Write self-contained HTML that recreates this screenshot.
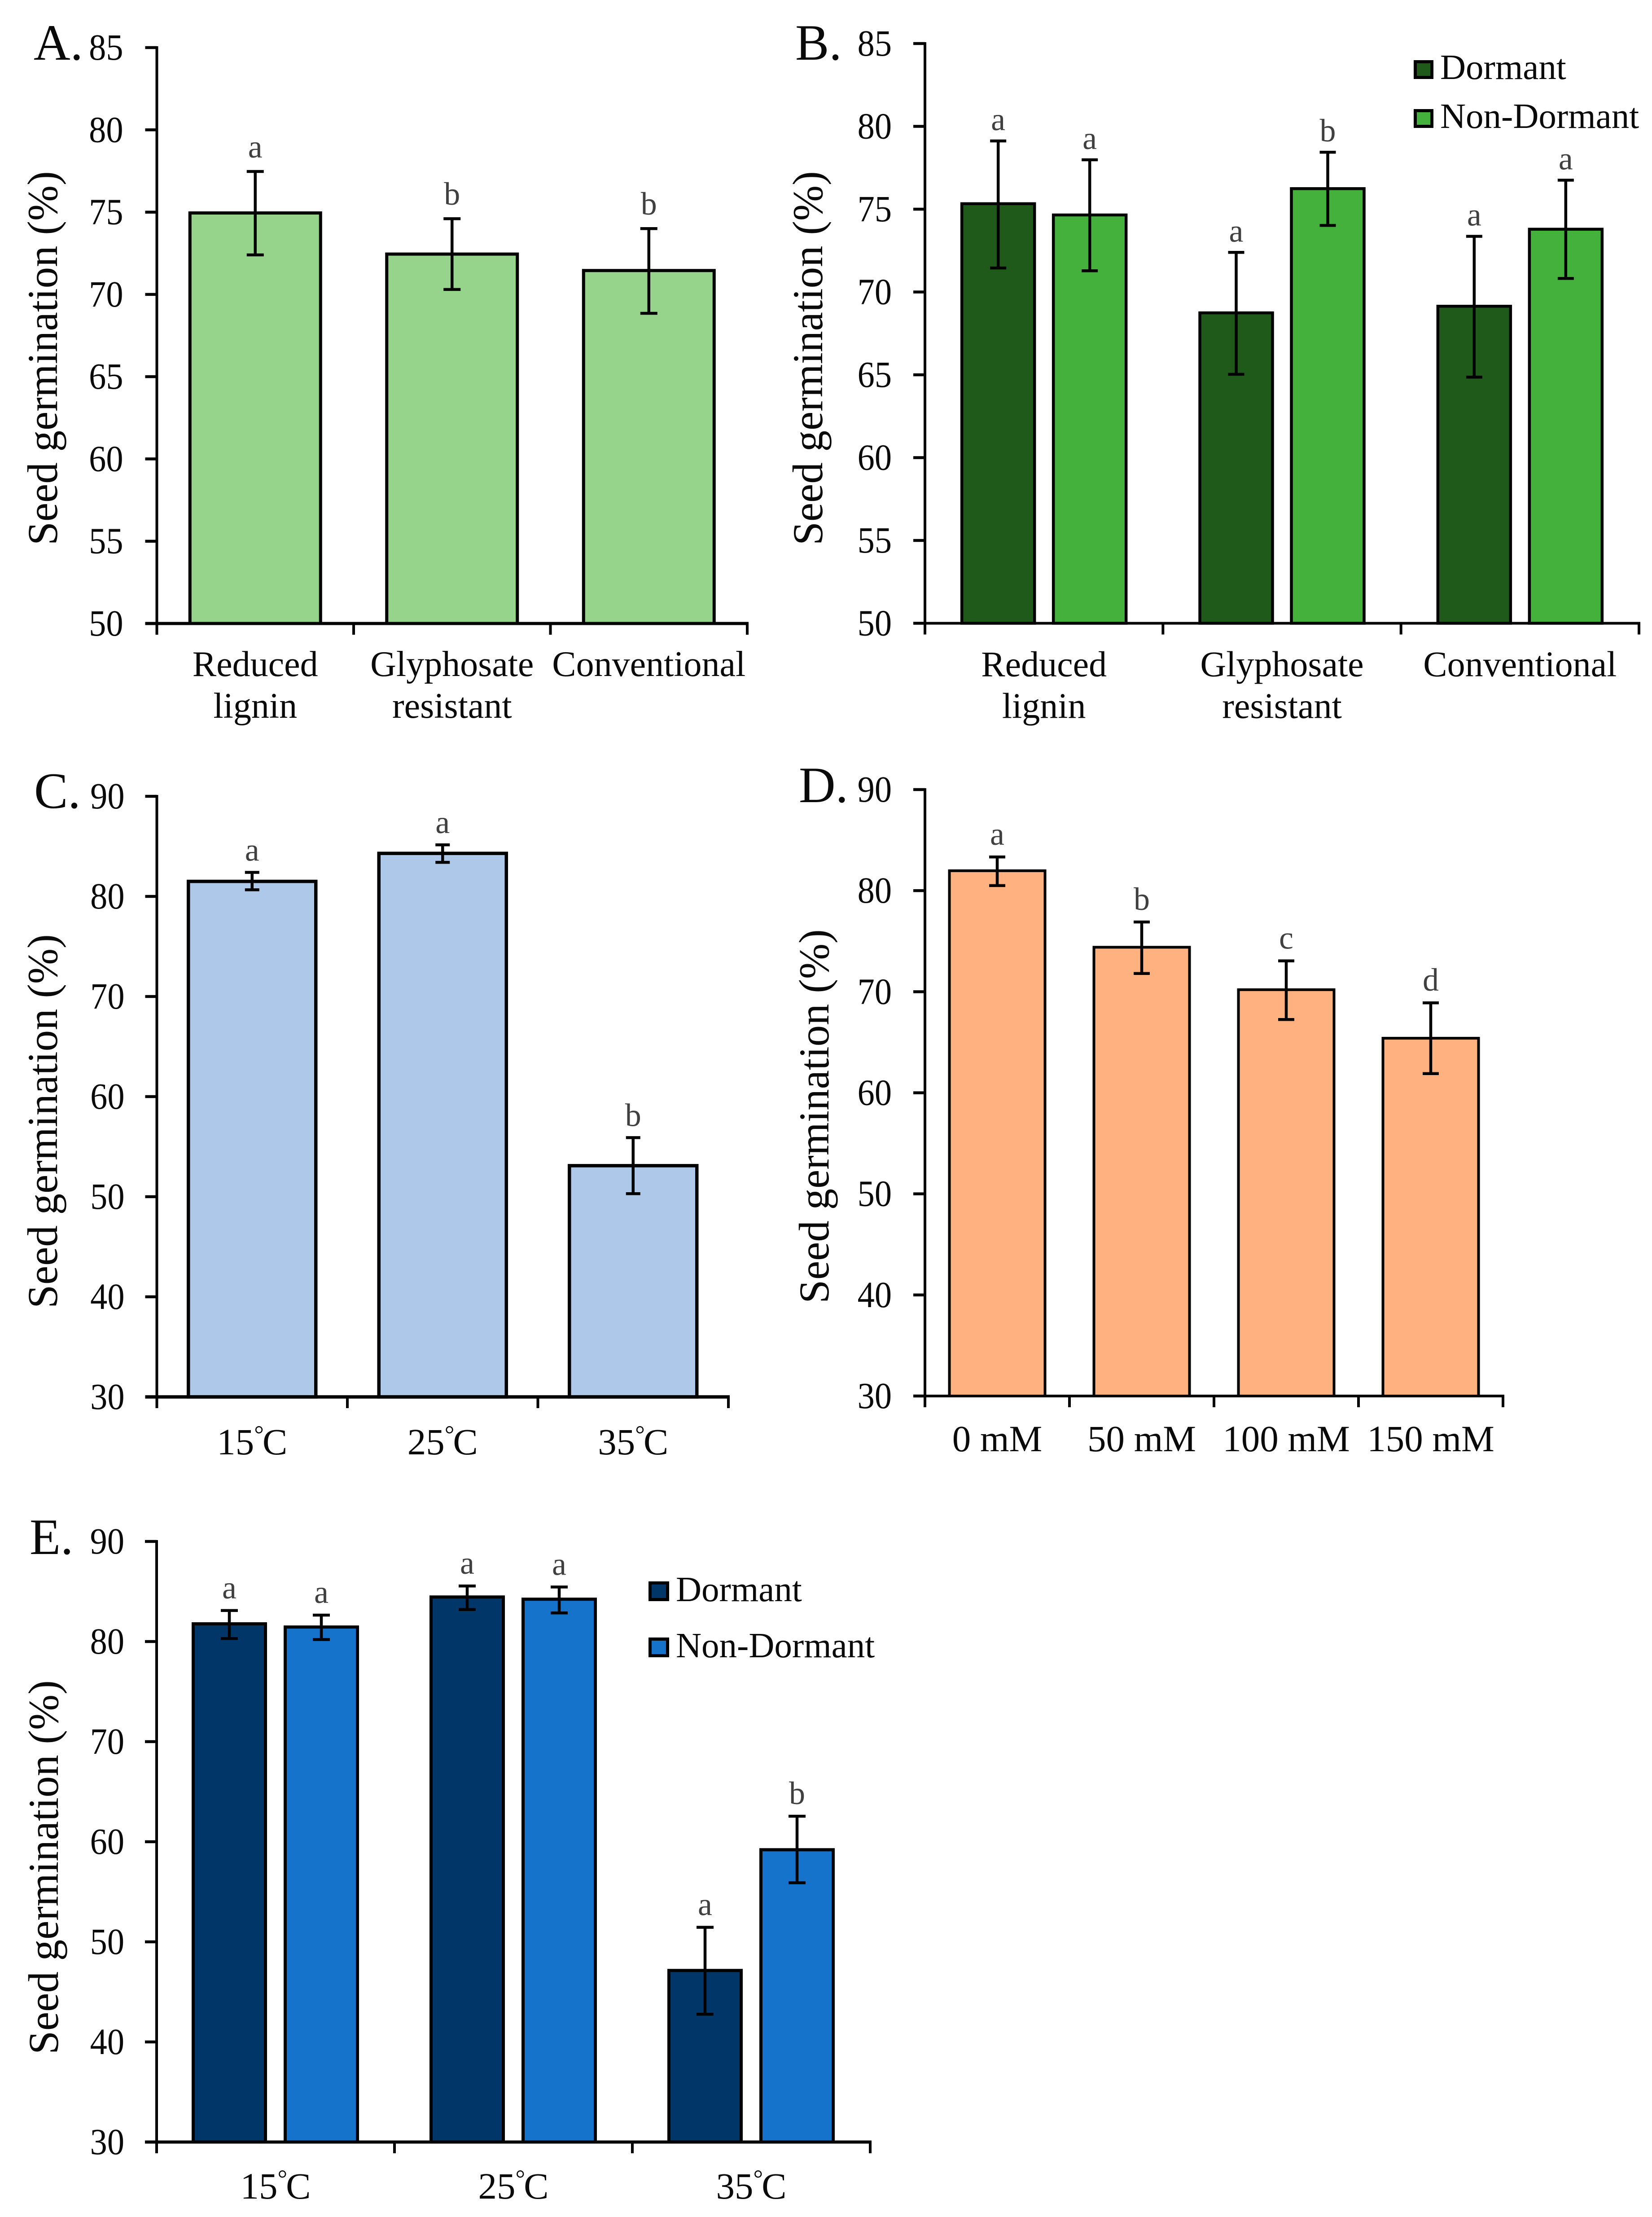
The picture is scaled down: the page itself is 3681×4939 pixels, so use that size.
<!DOCTYPE html>
<html lang="en">
<head>
<meta charset="utf-8">
<title>Seed germination charts</title>
<style>
html,body{margin:0;padding:0;background:#fff;}
svg{display:block;}
text{font-family:"Liberation Serif","Times New Roman",serif;fill:#0a0a0a;}
</style>
</head>
<body>
<svg id="figure" xmlns="http://www.w3.org/2000/svg" width="3681" height="4939" viewBox="0 0 3681 4939"></svg>
<script>
// ---------- DATA ----------
const panelACategories = [["Reduced","lignin"],["Glyphosate","resistant"],["Conventional"]];
const panelATicks = [50,55,60,65,70,75,80,85];
const panelAValues = [74.95,72.45,71.45];
const panelAHigh = [77.47,74.6,74.0];
const panelALow = [72.4,70.3,68.85];
const panelASig = ["a","b","b"];

const panelBCategories = [["Reduced","lignin"],["Glyphosate","resistant"],["Conventional"]];
const panelBTicks = [50,55,60,65,70,75,80,85];
const panelBDormant = [75.33,68.74,69.14];
const panelBDormantHigh = [79.12,72.39,73.36];
const panelBDormantLow = [71.45,65.03,64.86];
const panelBDormantSig = ["a","a","a"];
const panelBNonDormant = [74.65,76.24,73.79];
const panelBNonDormantHigh = [77.98,78.44,76.75];
const panelBNonDormantLow = [71.28,74.02,70.82];
const panelBNonDormantSig = ["a","b","a"];

const panelCCategories = [["15°C"],["25°C"],["35°C"]];
const panelCTicks = [30,40,50,60,70,80,90];
const panelCValues = [81.5,84.3,53.1];
const panelCHigh = [82.4,85.15,55.9];
const panelCLow = [80.66,83.4,50.3];
const panelCSig = ["a","a","b"];

const panelDCategories = [["0 mM"],["50 mM"],["100 mM"],["150 mM"]];
const panelDTicks = [30,40,50,60,70,80,90];
const panelDValues = [81.97,74.4,70.2,65.4];
const panelDHigh = [83.33,76.9,73.05,68.9];
const panelDLow = [80.5,71.8,67.25,61.9];
const panelDSig = ["a","b","c","d"];

const panelECategories = [["15°C"],["25°C"],["35°C"]];
const panelETicks = [30,40,50,60,70,80,90];
const panelEDormant = [81.77,84.45,47.14];
const panelEDormantHigh = [83.1,85.55,51.45];
const panelEDormantLow = [80.3,83.2,42.77];
const panelEDormantSig = ["a","a","a"];
const panelENonDormant = [81.45,84.23,59.2];
const panelENonDormantHigh = [82.64,85.45,62.55];
const panelENonDormantLow = [80.2,82.86,55.9];
const panelENonDormantSig = ["a","a","b"];

const seriesDormantName = "Dormant";
const seriesNonDormantName = "Non-Dormant";
const yAxisTitle = "Seed germination (%)";

// ---------- DRAW ----------
const NS = "http://www.w3.org/2000/svg";
const figure = document.getElementById("figure");

function make(parent, tag, attrs, content) {
  const e = document.createElementNS(NS, tag);
  for (const k in attrs) e.setAttribute(k, attrs[k]);
  if (content !== undefined) e.textContent = content;
  parent.appendChild(e);
  return e;
}
function slug(s) {
  return String(s).toLowerCase().replace(/°/g, "").replace(/[^a-z0-9]+/g, "-").replace(/^-|-$/g, "");
}
function fillLabel(textEl, line) {
  const at = line.indexOf("°");
  if (at < 0) { textEl.textContent = line; return; }
  make(textEl, "tspan", {}, line.slice(0, at));
  make(textEl, "tspan", {dy: -27, "font-size": 54, "letter-spacing": -3}, "°");
  make(textEl, "tspan", {dy: 27}, line.slice(at + 1));
}

function drawPanel(cfg) {
  const g = make(figure, "g", {});
  
  

  const yMin = cfg.ticks[0];
  const yMax = cfg.ticks[cfg.ticks.length - 1];
  const yScale = v => cfg.yBottom - (v - yMin) / (yMax - yMin) * (cfg.yBottom - cfg.yTop);
  const n = cfg.categories.length;
  const step = (cfg.xRight - cfg.xLeft) / n;
  const xCenter = i => cfg.xLeft + step * (i + 0.5);

  cfg.series.forEach((s, si) => {
    s.values.forEach((v, i) => {
      const cx = xCenter(i) + cfg.offsets[si];
      const bar = make(g, "rect", {
        x: cx - cfg.barW / 2, y: yScale(v), width: cfg.barW, height: cfg.yBottom - yScale(v),
        fill: s.color, stroke: "#000", "stroke-width": cfg.barStroke
      });
      
      
    });
  });

  cfg.series.forEach((s, si) => {
    s.values.forEach((v, i) => {
      const cx = xCenter(i) + cfg.offsets[si];
      const hi = yScale(s.high[i]);
      const lo = yScale(s.low[i]);
      const err = make(g, "path", {
        d: "M" + cx + " " + hi + "V" + lo + "M" + (cx - cfg.cap) + " " + hi + "H" + (cx + cfg.cap) + "M" + (cx - cfg.cap) + " " + lo + "H" + (cx + cfg.cap),
        fill: "none", stroke: "#000", "stroke-width": 6.5
      });
      
      

      const sig = make(g, "text", {
        x: cx, y: hi - cfg.sigGap, "text-anchor": "middle", "font-size": 72, style: "fill:#404040"
      }, s.sig[i]);
      
      
    });
  });

  const axisY = make(g, "line", {x1: cfg.xLeft, x2: cfg.xLeft, y1: cfg.yTop - 3, y2: cfg.yBottom + 3, stroke: "#000", "stroke-width": 6});
  
  

  const axisX = make(g, "line", {x1: cfg.xLeft - 26, x2: cfg.xRight + 3, y1: cfg.yBottom, y2: cfg.yBottom, stroke: "#000", "stroke-width": cfg.axisStroke});
  
  

  cfg.ticks.forEach(t => {
    const y = yScale(t);
    const tick = make(g, "line", {x1: cfg.xLeft - 26, x2: cfg.xLeft, y1: y, y2: y, stroke: "#000", "stroke-width": 6.5});
    
    

    const lab = make(g, "text", {
      "text-anchor": "end", "font-size": 83,
      transform: "translate(" + (cfg.xLeft - cfg.tickGap) + " " + (y + 27) + ") scale(0.92 1)"
    }, t);
    
    
  });

  for (let i = 0; i <= n; i++) {
    const x = cfg.xLeft + step * i;
    const tick = make(g, "line", {x1: x, x2: x, y1: cfg.yBottom, y2: cfg.yBottom + 25, stroke: "#000", "stroke-width": 6});
    
    
  }

  cfg.categories.forEach((lines, i) => {
    lines.forEach((line, li) => {
      const lab = make(g, "text", {x: xCenter(i), y: cfg.yBottom + cfg.catGap + li * 93, "text-anchor": "middle", "font-size": cfg.catSize});
      fillLabel(lab, line);
      
      
    });
  });

  const title = make(g, "text", {
    x: cfg.titleX, y: cfg.titleY, "text-anchor": "middle", "font-size": 95,
    transform: "rotate(-90 " + cfg.titleX + " " + cfg.titleY + ")"
  }, yAxisTitle);
  
  

  const letter = make(g, "text", {x: cfg.letterX, y: cfg.letterY, "font-size": 113}, cfg.id.toUpperCase() + ".");
  
  

  if (cfg.legend) {
    cfg.series.forEach((s, si) => {
      const top = cfg.legend.ys[si];
      const swatch = make(g, "rect", {x: cfg.legend.x + 3.5, y: top + 3.5, width: cfg.legend.w - 7, height: cfg.legend.h - 7, fill: s.color, stroke: "#000", "stroke-width": 7});
      
      

      const label = make(g, "text", {x: cfg.legend.textX, y: top + cfg.legend.h, "font-size": 79}, s.name);
      
      
    });
  }
}

drawPanel({
  id: "a", categories: panelACategories, ticks: panelATicks,
  series: [{name: "germination", values: panelAValues, high: panelAHigh, low: panelALow, sig: panelASig, color: "#97d48b"}],
  offsets: [0], barW: 291, barStroke: 7, cap: 19, sigGap: 31, axisStroke: 7,
  xLeft: 349.5, xRight: 1665, yTop: 106, yBottom: 1389,
  tickGap: 75, catGap: 117, catSize: 80, titleX: 127, titleY: 798, letterX: 75, letterY: 133
});

drawPanel({
  id: "b", categories: panelBCategories, ticks: panelBTicks,
  series: [
    {name: seriesDormantName, values: panelBDormant, high: panelBDormantHigh, low: panelBDormantLow, sig: panelBDormantSig, color: "#205a1b"},
    {name: seriesNonDormantName, values: panelBNonDormant, high: panelBNonDormantHigh, low: panelBNonDormantLow, sig: panelBNonDormantSig, color: "#45b13d"}
  ],
  offsets: [-102, 102], barW: 162, barStroke: 6.5, cap: 18, sigGap: 24, axisStroke: 6,
  xLeft: 2061, xRight: 3652, yTop: 97, yBottom: 1388.5,
  tickGap: 74, catGap: 118, catSize: 80, titleX: 1832, titleY: 798, letterX: 1772, letterY: 133,
  legend: {x: 3150, w: 44, h: 42, ys: [134, 243], textX: 3209}
});

drawPanel({
  id: "c", categories: panelCCategories, ticks: panelCTicks,
  series: [{name: "germination", values: panelCValues, high: panelCHigh, low: panelCLow, sig: panelCSig, color: "#aec8e9"}],
  offsets: [0], barW: 284, barStroke: 7.5, cap: 16, sigGap: 26, axisStroke: 7.5,
  xLeft: 349.5, xRight: 1623, yTop: 1774, yBottom: 3112,
  tickGap: 72, catGap: 128, catSize: 83, titleX: 127, titleY: 2498, letterX: 76, letterY: 1800
});

drawPanel({
  id: "d", categories: panelDCategories, ticks: panelDTicks,
  series: [{name: "germination", values: panelDValues, high: panelDHigh, low: panelDLow, sig: panelDSig, color: "#ffb27f"}],
  offsets: [0], barW: 213, barStroke: 6, cap: 18, sigGap: 27, axisStroke: 6,
  xLeft: 2061, xRight: 3349, yTop: 1759, yBottom: 3110,
  tickGap: 74, catGap: 123, catSize: 83, titleX: 1846, titleY: 2487, letterX: 1780, letterY: 1787
});

drawPanel({
  id: "e", categories: panelECategories, ticks: panelETicks,
  series: [
    {name: seriesDormantName, values: panelEDormant, high: panelEDormantHigh, low: panelEDormantLow, sig: panelEDormantSig, color: "#003768"},
    {name: seriesNonDormantName, values: panelENonDormant, high: panelENonDormantHigh, low: panelENonDormantLow, sig: panelENonDormantSig, color: "#1673cb"}
  ],
  offsets: [-103, 102], barW: 161, barStroke: 7, cap: 19, sigGap: 27, axisStroke: 7,
  xLeft: 349, xRight: 1939, yTop: 3434, yBottom: 4772,
  tickGap: 72, catGap: 126, catSize: 83, titleX: 129, titleY: 4160, letterX: 66, letterY: 3462,
  legend: {x: 1445, w: 46, h: 44, ys: [3523, 3648], textX: 1506}
});
</script>
</body>
</html>
